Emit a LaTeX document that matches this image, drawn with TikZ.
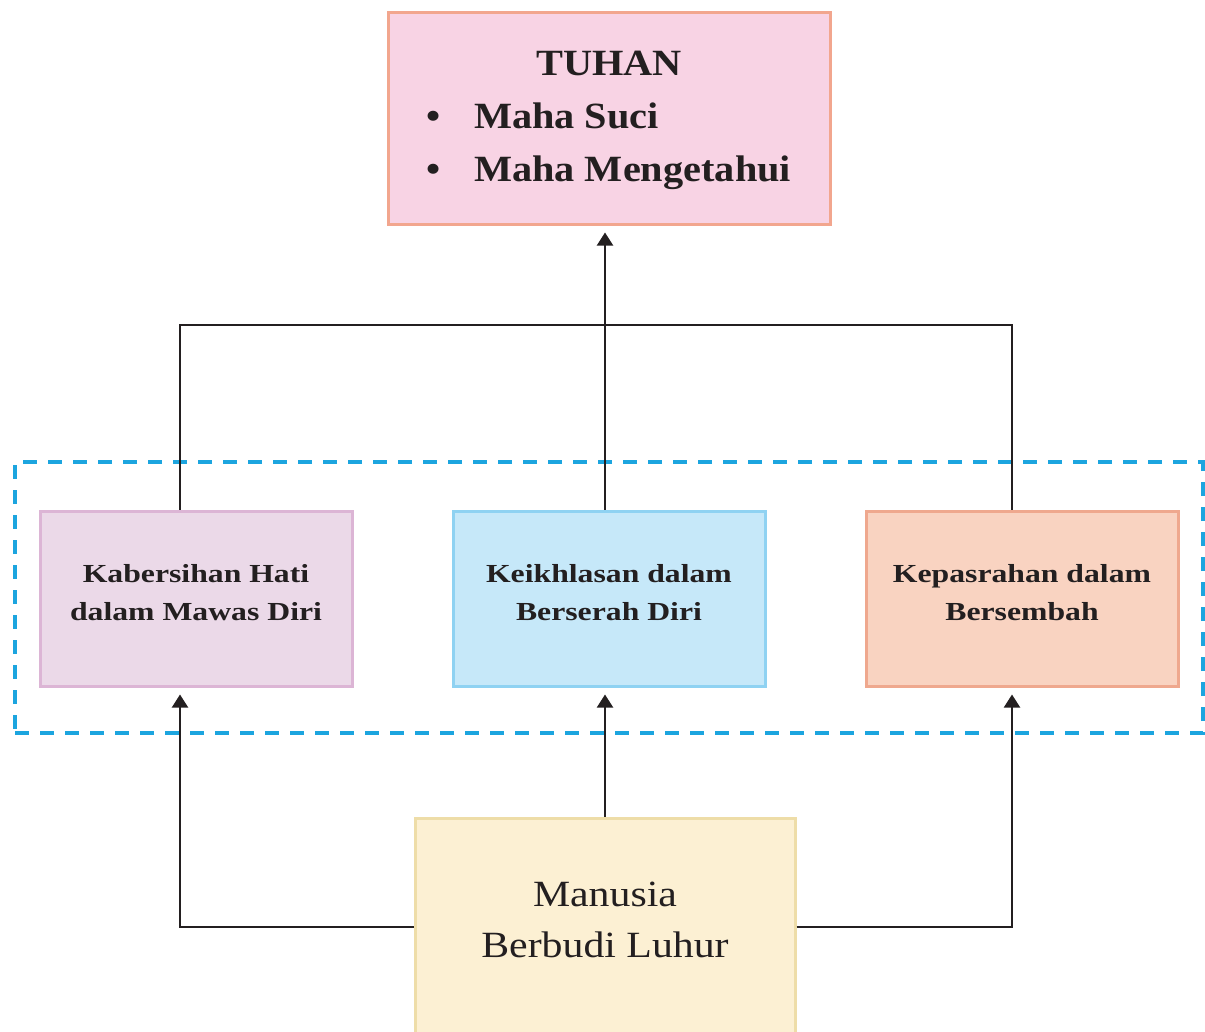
\documentclass[tikz,border=0pt]{standalone}
\usepackage{fontspec}
\setmainfont{Liberation Serif}
\usetikzlibrary{arrows.meta}

\definecolor{ink}{HTML}{231F20}
\definecolor{godfill}{HTML}{F8D3E4}
\definecolor{goddraw}{HTML}{F2A68E}
\definecolor{kabfill}{HTML}{EBD9E8}
\definecolor{kabdraw}{HTML}{DCB5D5}
\definecolor{ikhfill}{HTML}{C6E8F9}
\definecolor{ikhdraw}{HTML}{8FD2F2}
\definecolor{pasfill}{HTML}{F9D3C1}
\definecolor{pasdraw}{HTML}{EFA88E}
\definecolor{manfill}{HTML}{FCF0D3}
\definecolor{mandraw}{HTML}{EEDDA8}
\definecolor{groupblue}{HTML}{1CA5DF}

\tikzset{
  box/.style={rectangle, line width=3pt, text=ink, inner sep=0pt},
  virtue/.style={box, minimum width=312pt, minimum height=175pt, align=center,
    font=\fontsize{26}{38}\selectfont\bfseries\addfontfeature{FakeStretch=1.22},
    text depth=12pt},
  groupbox/.style={rectangle, draw=groupblue, line width=4pt,
    dash pattern=on 14pt off 11pt, minimum width=1188pt, minimum height=271pt},
  link/.style={draw=ink, line width=2pt},
  arrow/.style={link, -{Triangle[length=13pt,width=16pt]}, shorten >=7pt},
}

\begin{document}
\begin{tikzpicture}[x=1pt,y=-1pt]
\useasboundingbox (0,0) rectangle (1205,1031);

% dashed frame round the three attitudes
\node[groupbox] (grp) at (609,597.5) {};

% top: God
\node[box, fill=godfill, draw=goddraw, minimum width=442pt, minimum height=212pt] (tuhan) at (609,118)
  {\fontsize{37}{53}\selectfont\bfseries\addfontfeature{FakeStretch=1.09}%
   \begin{tabular}{@{}l@{\hspace{33pt}}l@{}}
   \multicolumn{2}{c}{TUHAN}\\
   \textbullet & Maha Suci\\
   \textbullet & Maha Mengetahui
   \end{tabular}};

% middle: three attitudes
\node[virtue, fill=kabfill, draw=kabdraw] (kab) at (196,598.5) {Kabersihan Hati\\dalam Mawas Diri};
\node[virtue, fill=ikhfill, draw=ikhdraw] (ikh) at (609,598.5) {Keikhlasan dalam\\Berserah Diri};
\node[virtue, fill=pasfill, draw=pasdraw] (pas) at (1022,598.5) {Kepasrahan dalam\\Bersembah};

% bottom: the virtuous human
\node[box, fill=manfill, draw=mandraw, minimum width=380pt, minimum height=217pt, align=center,
      font=\fontsize{37}{51}\selectfont\addfontfeature{FakeStretch=1.13}, text depth=13pt] (man) at (605,926.5)
  {Manusia\\Berbudi Luhur};

% connector routing points
\coordinate (lt) at (180,325);
\coordinate (rt) at (1012,325);

% upper links towards God
\path[link] (kab.north -| lt) -- (lt) -- (rt) -- (pas.north -| rt);
\path[arrow] (ikh.north -| man.north) -- (tuhan.south -| man.north);

% lower links from the human to each attitude
\path[arrow] (man.north) -- (ikh.south -| man.north);
\path[arrow] (man.west) -| (kab.south -| lt);
\path[arrow] (man.east) -| (pas.south -| rt);
\end{tikzpicture}
\end{document}
